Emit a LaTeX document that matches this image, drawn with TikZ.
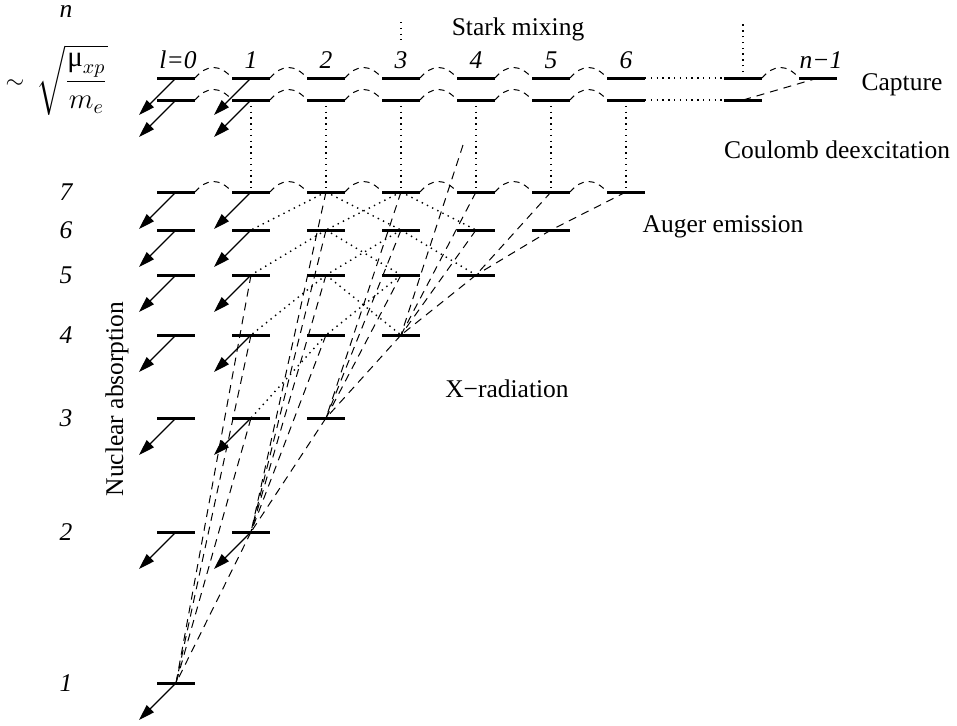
\documentclass[tikz,border=0pt]{standalone}
\usepackage{amsmath}
\usepackage{fontspec}
\setmainfont{Liberation Serif}
\usetikzlibrary{arrows.meta}

\tikzset{
  lvl/.style={inner sep=0pt, outer sep=0pt, minimum width=19pt, minimum height=0pt},
  lvlline/.style={line width=1.5pt},
  absorb/.style={line width=0.6pt, -{Triangle[length=8pt,width=5pt]}},
  stark/.style={line width=0.5pt, dash pattern=on 3pt off 2.5pt},
  xray/.style={line width=0.5pt, dash pattern=on 4pt off 3pt},
  dots/.style={line width=0.7pt, dash pattern=on 0.7pt off 2.2pt},
}

\begin{document}
\begin{tikzpicture}[x=0.5pt,y=-0.5pt,font=\fontsize{12.75}{15}\selectfont]
\useasboundingbox (0,0) rectangle (957,725);

% levels n=1..7
\foreach \n/\y in {1/683,2/532,3/418,4/335,5/275,6/230,7/192} {
  \pgfmathtruncatemacro\lmax{\n-1}
  \foreach \l in {0,...,\lmax} {
    \node[lvl] (s\n-\l) at (176+75*\l,\y) {};
    \draw[lvlline] (s\n-\l.west) -- (s\n-\l.east);
    \ifnum\l<2
      \coordinate (t\n-\l) at (139+75*\l,\y+37);
      \draw[absorb] (s\n-\l.center) -- (t\n-\l);
    \fi
  }
  \node (row\n) at (66,\y) {\itshape\n};
}

% high levels, two rows
\foreach \l in {0,...,6} {
  \node[lvl] (a\l) at (176+75*\l,78) {};
  \node[lvl] (b\l) at (176+75*\l,100) {};
  \draw[lvlline] (a\l.west) -- (a\l.east);
  \draw[lvlline] (b\l.west) -- (b\l.east);
}
\node[lvl] (a7) at (743,78) {};
\node[lvl] (b7) at (743,100) {};
\node[lvl] (a8) at (818,78) {};
\foreach \s in {a7,b7,a8} \draw[lvlline] (\s.west) -- (\s.east);

\foreach \l in {0,1} {
  \coordinate (ta\l) at (139+75*\l,115);
  \coordinate (tb\l) at (139+75*\l,137);
  \draw[absorb] (a\l.center) -- (ta\l);
  \draw[absorb] (b\l.center) -- (tb\l);
}

% Stark mixing
\foreach \l in {0,...,5} {
  \pgfmathtruncatemacro\m{\l+1}
  \draw[stark] (a\l.east) .. controls +(12,-14) and +(-12,-14) .. (a\m.west);
  \draw[stark] (b\l.east) .. controls +(12,-14) and +(-12,-14) .. (b\m.west);
  \draw[stark] (s7-\l.east) .. controls +(12,-14) and +(-12,-14) .. (s7-\m.west);
}
\draw[stark] (a7.east) .. controls +(12,-14) and +(-12,-14) .. (a8.west);
\draw[dots] (a6.east) -- (a7.west);
\draw[dots] (b6.east) -- (b7.west);
\coordinate (up7) at (743,22);
\draw[dots] (a7.center) -- (up7);
\coordinate (up3a) at (401,22);
\coordinate (up3b) at (401,40);
\draw[dots] (up3a) -- (up3b);

% capture
\draw[xray] (a8.center) -- (b7.center);

% Coulomb deexcitation
\foreach \l in {1,...,6}
  \draw[dots] (b\l.center) -- (s7-\l.center);

% Auger emission
\foreach \p/\q in {7-2/6-1,7-2/6-3,7-3/6-2,7-3/6-4,6-2/5-1,6-2/5-3,6-3/5-2,6-3/5-4,
                   5-2/4-1,5-2/4-3,5-3/4-2,4-2/3-1}
  \draw[dots] (s\p.center) -- (s\q.center);

% X-radiation
\foreach \p/\q in {2-1/1-0,3-1/1-0,4-1/1-0,5-1/1-0,
                   3-2/2-1,4-2/2-1,5-2/2-1,6-2/2-1,7-2/2-1,
                   4-3/3-2,5-3/3-2,6-3/3-2,7-3/3-2,
                   5-4/4-3,6-4/4-3,7-4/4-3,
                   6-5/5-4,7-5/5-4,7-6/6-5}
  \draw[xray] (s\p.center) -- (s\q.center);
\coordinate (hi4) at (463,145);
\draw[xray] (hi4) -- (s4-3.center);

% labels
\node[inner sep=0pt] (nlab) at (66,11) {\itshape n};
\node (simlab) at (15,84) {$\sim$};
\node[inner sep=0pt, font=\fontsize{14.5}{17}\selectfont] (mass) at (72,80)
  {$\displaystyle\sqrt{\frac{\text{μ}_{xp}}{m_e}}$};
\node[anchor=base] (col0) at (178,68) {\itshape l=0};
\foreach \l in {1,...,6}
  \node[anchor=base] (col\l) at (176+75*\l,68) {\itshape\l};
\node[anchor=base] (coln) at (821,68) {\itshape n−1};
\node[anchor=base] (starklab) at (518,35) {Stark mixing};
\node[anchor=base] (caplab) at (902,90) {Capture};
\node[anchor=base] (coullab) at (837,158) {Coulomb deexcitation};
\node[anchor=base] (augerlab) at (723,232) {Auger emission};
\node[anchor=base] (xlab) at (507,397) {X−radiation};
\node[rotate=90] (nuclab) at (117,399) {Nuclear absorption};
\end{tikzpicture}
\end{document}
